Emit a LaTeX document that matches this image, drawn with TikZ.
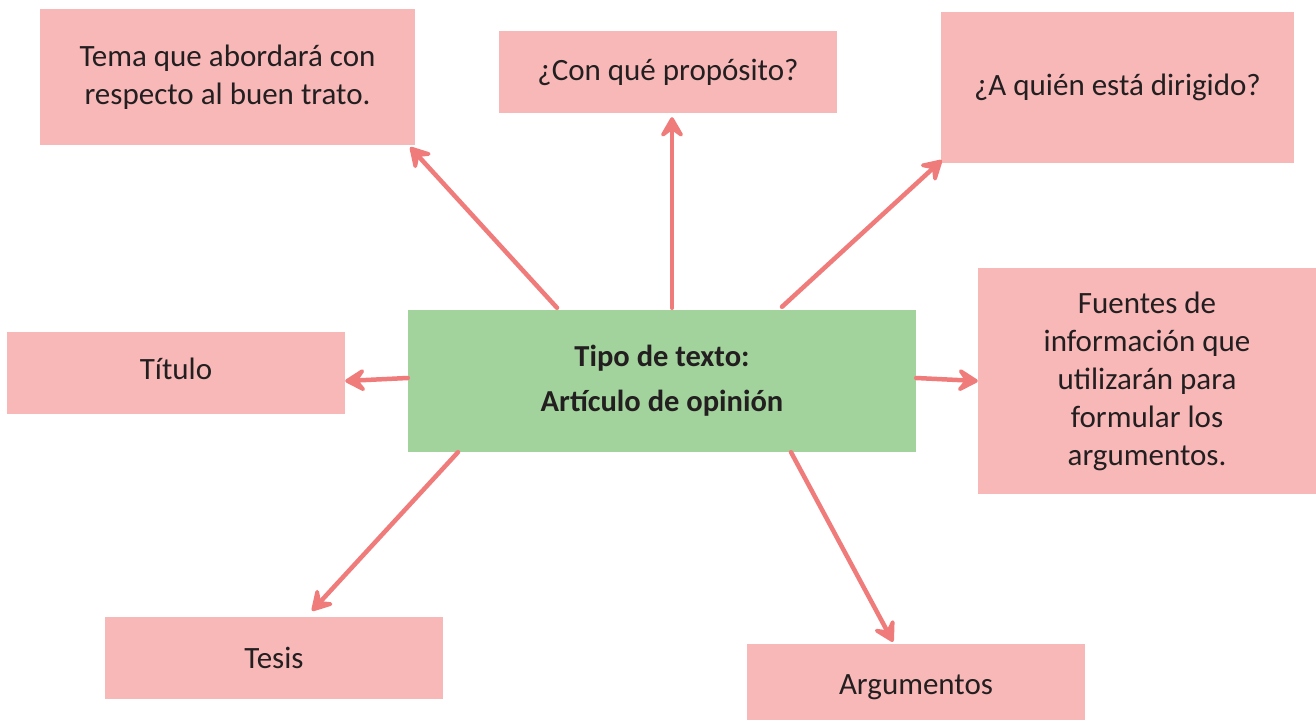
\documentclass[tikz,border=0pt]{standalone}
\usepackage{fontspec}
\setmainfont{Carlito}
\usetikzlibrary{arrows.meta,calc}
\definecolor{boxpink}{HTML}{F8B8B8}
\definecolor{boxgreen}{HTML}{A2D39C}
\definecolor{arrowred}{HTML}{F07B7B}
\definecolor{txt}{HTML}{231F20}
\begin{document}
\begin{tikzpicture}[x=1pt,y=1pt,
  pinkbox/.style={fill=boxpink,draw=none,inner sep=0pt,align=center,text=txt,
    font=\fontsize{31}{38}\selectfont},
  greenbox/.style={fill=boxgreen,draw=none,inner sep=0pt,align=center,text=txt,
    font=\bfseries\fontsize{30.5}{45}\selectfont},
  link/.style={draw=arrowred,line width=4.5pt,line cap=round,
    -{Stealth[length=26pt,width=30pt,inset=11pt,round]}}]
\useasboundingbox (0,0) rectangle (1316,720);
% boxes (y = 720 - pixel y)
\node[pinkbox,minimum width=375,minimum height=136] (tema) at (227.5,643) {Tema que abordará con\\respecto al buen trato.};
\node[pinkbox,minimum width=338,minimum height=82] (prop) at (668,648) {¿Con qué propósito?};
\node[pinkbox,minimum width=353,minimum height=151] (quien) at (1117.5,632.5) {¿A quién está dirigido?};
\node[pinkbox,minimum width=338,minimum height=82,text depth=8pt] (tit) at (176,347) {Título};
\node[greenbox,minimum width=508,minimum height=142] (c) at (662,339) {Tipo de texto:\\Artículo de opinión};
\node[pinkbox,minimum width=338,minimum height=226] (fuen) at (1147,339) {Fuentes de\\información que\\utilizarán para\\formular los\\argumentos.};
\node[pinkbox,minimum width=338,minimum height=82] (tesis) at (274,62) {Tesis};
\node[pinkbox,minimum width=338,minimum height=76,text height=30pt] (arg) at (916,38) {Argumentos};
% connectors
\draw[link] ([xshift=-105pt,yshift=2pt]c.north) -- ([xshift=-5pt,yshift=-2pt]tema.south east);
\draw[link] ([xshift=10pt,yshift=2pt]c.north) -- ([xshift=4pt,yshift=-4pt]prop.south);
\draw[link] ([xshift=120pt,yshift=3pt]c.north) -- ([xshift=1pt,yshift=3pt]quien.south west);
\draw[link] ([yshift=3pt]c.west) -- ([yshift=-8pt]tit.east);
\draw[link] ([yshift=3pt]c.east) -- (fuen.west);
\draw[link] ([xshift=-204pt]c.south) -- ([xshift=38pt,yshift=6pt]tesis.north);
\draw[link] ([xshift=129pt]c.south) -- ([xshift=-23pt,yshift=2pt]arg.north);
\end{tikzpicture}
\end{document}
